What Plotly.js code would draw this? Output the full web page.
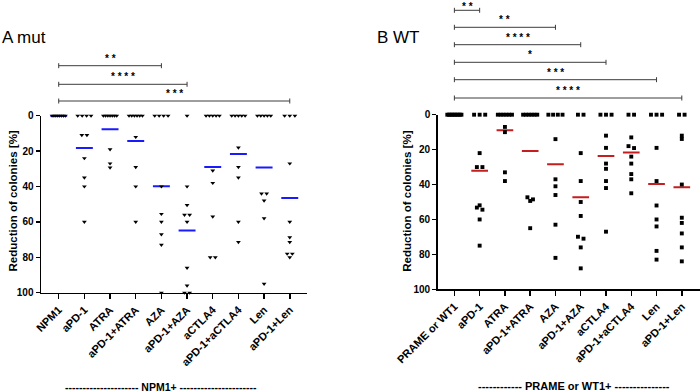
<!DOCTYPE html>
<html><head><meta charset="utf-8">
<script src="https://cdn.plot.ly/plotly-3.0.1.min.js"></script>
<style>html,body{margin:0;padding:0;background:#fff}</style>
</head><body><div id="chart" style="width:700px;height:392px"></div>
<script>
// ---------------- DATA ----------------
const categoriesA = ['NPM1','aPD-1','ATRA','aPD-1+ATRA','AZA','aPD-1+AZA','aCTLA4','aPD-1+aCTLA4','Len','aPD-1+Len'];
const categoriesB = ['PRAME or WT1','aPD-1','ATRA','aPD-1+ATRA','AZA','aPD-1+AZA','aCTLA4','aPD-1+aCTLA4','Len','aPD-1+Len'];

// Panel A (NPM1 mut), reduction of colonies [%]
const mutNPM1      = [0,0,0,0,0,0,0,0];
const mutAPD1      = [0,0,0,0,11,11,24,35,40,60];
const mutATRA      = [0,0,0,0,0,0,0,19,27,29.3];
const mutAPD1ATRA  = [0,0,0,0,0,0,12,29,40,60];
const mutAZA       = [0,0,0,0,40,55.5,60,67,73,100];
const mutAPD1AZA   = [0,40,50.5,56,56,60,86,96,100,100];
const mutCTLA4     = [0,0,0,0,0,31,38,57,80,80];
const mutAPD1CTLA4 = [0,0,0,0,0,18,29,35,60,71.4];
const mutLen       = [0,0,0,0,0,44,44,48,58,95];
const mutAPD1Len   = [0,0,0,27,60,68.7,71.4,78,78,80];
const meansA       = [0,18.2,7.7,14.3,39.9,64.8,29,21.6,29.2,46.5];

// Panel B (WT), reduction of colonies [%]
const wtPRAME      = [0,0,0,0,0,0,0,0,0,0];
const wtAPD1       = [0,0,0,22,30,30,51.9,53.2,54.4,60,75];
const wtATRA       = [0,0,0,0,0,0,7,10,33,38];
const wtAPD1ATRA   = [0,0,0,0,0,0,47.3,48.5,49.4,65];
const wtAZA        = [0,0,0,0,14,37,41,46,63,82];
const wtAPD1AZA    = [0,0,22,38,50,58,69.9,71,76,88];
const wtCTLA4      = [0,0,0,12,19,28,31,38,42,67];
const wtAPD1CTLA4  = [0,0,13,18,19.1,24,28,34,37,45];
const wtLen        = [0,0,0,19,38,52,60,64,78,83];
const wtAPD1Len    = [0,0,12,13.9,40,59,62,68,76,84];
const meansB       = [0,32.1,8.9,20.8,28.4,47.3,23.7,21.6,39.7,41.6];

// Significance comparisons (from first group to group index)
const sigToA    = [4,5,9];
const sigStarsA = ['**','****','***'];
const sigToB    = [1,4,5,6,8,9];
const sigStarsB = ['**','**','****','*','***','****'];

const seriesA = [mutNPM1,mutAPD1,mutATRA,mutAPD1ATRA,mutAZA,mutAPD1AZA,mutCTLA4,mutAPD1CTLA4,mutLen,mutAPD1Len];
const seriesB = [wtPRAME,wtAPD1,wtATRA,wtAPD1ATRA,wtAZA,wtAPD1AZA,wtCTLA4,wtAPD1CTLA4,wtLen,wtAPD1Len];

// ---------------- LAYOUT HELPERS ----------------
const W = 700, H = 392;
const pX = v => v / W;
const pY = v => 1 - v / H;

function jitter(vals, maxStep, maxSpan) {
  const s = vals.slice().sort((a,b)=>a-b);
  const dx = [], y = [];
  let i = 0;
  while (i < s.length) {
    let j = i;
    while (j < s.length && s[j] - s[i] < 1.25) j++;
    const n = j - i;
    const step = n > 1 ? Math.min(maxStep, maxSpan/(n-1)) : 0;
    for (let k = 0; k < n; k++) { dx.push((k-(n-1)/2)*step); y.push(s[i+k]); }
    i = j;
  }
  return {dx, y};
}

function pointsTrace(series, xa, ya, symbol, size, maxStep, maxSpan) {
  const x = [], y = [];
  series.forEach((vals, i) => {
    const j = jitter(vals, maxStep, maxSpan);
    j.dx.forEach((d,k) => { x.push(i + d); y.push(j.y[k]); });
  });
  return {type:'scatter', mode:'markers', x, y, xaxis:xa, yaxis:ya, cliponaxis:false,
    marker:{symbol, size, color:'#000', line:{width:0}}, hoverinfo:'skip', showlegend:false};
}

function meanTrace(means, xa, ya, color) {
  const x = [], y = [];
  means.forEach((m,i) => { x.push(i-0.33, i+0.33, null); y.push(m, m, null); });
  return {type:'scatter', mode:'lines', x, y, xaxis:xa, yaxis:ya, cliponaxis:false,
    line:{color, width:2}, hoverinfo:'skip', showlegend:false};
}

const FONT = 'Liberation Sans, Arial, sans-serif';

const data = [
  meanTrace(meansA, 'x', 'y', '#1a1aff'),
  pointsTrace(seriesA, 'x', 'y', 'triangle-down', 4.2, 0.2, 0.52),
  meanTrace(meansB, 'x2', 'y2', '#c41e1e'),
  pointsTrace(seriesB, 'x2', 'y2', 'square', 3.9, 0.22, 0.56)
];

function xAxis(domain, range, cats) {
  return {domain, range, type:'linear', tickvals:cats.map((c,i)=>i), ticktext:cats,
    tickangle:-45, ticks:'outside', ticklen:5, tickwidth:1.5, tickcolor:'#000',
    showline:true, linewidth:1.5, linecolor:'#000', showgrid:false, zeroline:false,
    tickfont:{family:FONT, size:11, color:'#000', weight:'bold'}, fixedrange:true};
}
function yAxis(domain, anchor) {
  return {domain, anchor, range:[100,0], tickvals:[0,20,40,60,80,100],
    ticks:'outside', ticklen:4, tickwidth:1.5, tickcolor:'#000',
    showline:true, linewidth:1.5, linecolor:'#000', showgrid:false, zeroline:false,
    tickfont:{family:FONT, size:10, color:'#000', weight:'bold'}, fixedrange:true};
}

const shapes = [], annotations = [];
function brackets(toList, stars, xref, levelsPx) {
  toList.forEach((to, k) => {
    const yp = levelsPx[k];
    const line = {color:'#3c3c3c', width:1};
    shapes.push({type:'line', xref, yref:'paper', x0:0, x1:to, y0:pY(yp), y1:pY(yp), line});
    shapes.push({type:'line', xref, yref:'paper', x0:0, x1:0, y0:pY(yp-2.5), y1:pY(yp+2.5), line});
    shapes.push({type:'line', xref, yref:'paper', x0:to, x1:to, y0:pY(yp-2.5), y1:pY(yp+2.5), line});
    const nearTop = yp < 14;
    annotations.push({xref, yref:'paper', x:to/2, y: nearTop ? 1 : pY(yp-1),
      yanchor: nearTop ? 'top' : 'bottom', xanchor:'center',
      showarrow:false, borderpad:0, text:stars[k].split('').join(' '),
      font:{family:FONT, size:10, color:'#000', weight:'bold'}});
  });
}
brackets(sigToA, sigStarsA, 'x', [65.7, 84.3, 101]);
brackets(sigToB, sigStarsB, 'x2', [10.3, 27.3, 44.7, 62.3, 79.7, 98]);

function label(text, x, y, opts) {
  annotations.push(Object.assign({xref:'paper', yref:'paper', x:pX(x), y:pY(y), showarrow:false,
    text, xanchor:'center', yanchor:'middle'}, opts));
}
label('A mut', 0, 37.5, {xanchor:'left', font:{family:FONT, size:17, color:'#000'}});
label('B WT', 375, 37.5, {xanchor:'left', font:{family:FONT, size:17, color:'#000'}});
label('Reduction of colonies [%]', 12, 201.5, {textangle:-90, font:{family:FONT, size:11.5, color:'#000', weight:'bold'}});
label('Reduction of colonies [%]', 406.7, 201, {textangle:-90, font:{family:FONT, size:11.5, color:'#000', weight:'bold'}});
label('-'.repeat(21) + ' NPM1+ ' + '-'.repeat(22), 160.8, 386.5, {borderpad:0, font:{family:FONT, size:10.5, color:'#000', weight:'bold'}});
label('-'.repeat(12) + ' PRAME or WT1+ ' + '-'.repeat(15), 574, 386, {borderpad:0, font:{family:FONT, size:11, color:'#000', weight:'bold'}});

const layout = {
  width:W, height:H, margin:{l:0,r:0,t:0,b:0},
  paper_bgcolor:'#fff', plot_bgcolor:'rgba(0,0,0,0)', showlegend:false,
  xaxis: xAxis([pX(41), pX(306.7)], [-0.69, 9.66], categoriesA),
  yaxis: yAxis([pY(292.7), pY(115.7)], 'x'),
  xaxis2: Object.assign(xAxis([pX(437.7), 1], [-0.66, 9.72], categoriesB), {anchor:'y2'}),
  yaxis2: yAxis([pY(289.3), pY(114.7)], 'x2'),
  shapes, annotations
};
layout.xaxis.anchor = 'y';

Plotly.newPlot('chart', data, layout, {staticPlot:true, displayModeBar:false});
</script></body></html>
